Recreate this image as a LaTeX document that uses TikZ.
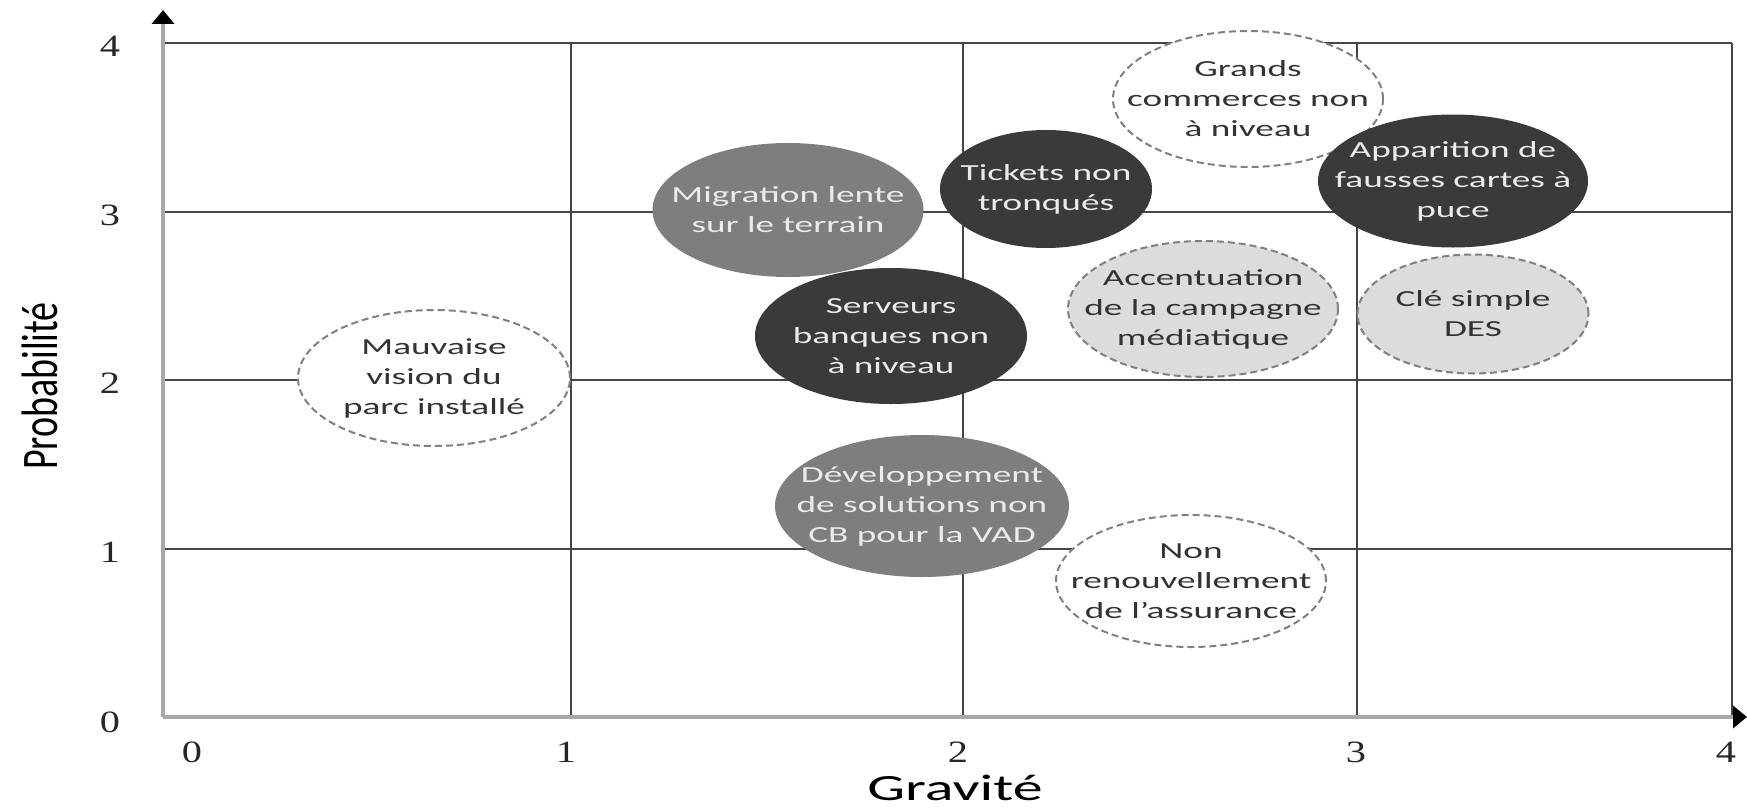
\documentclass[tikz,border=0pt]{standalone}
\usepackage{fontspec}
\setmainfont{Carlito}
\newfontfamily\widefont{Carlito}[FakeStretch=1.62]
\newfontfamily\tickfont{Liberation Serif}[FakeStretch=1.3]
\usetikzlibrary{arrows.meta,shapes.geometric}

\definecolor{darkrisk}{HTML}{3A3A3A}
\definecolor{midrisk}{HTML}{7E7E7E}
\definecolor{lightrisk}{HTML}{DCDCDC}
\definecolor{axisgray}{HTML}{A8A8A8}
\definecolor{gridgray}{HTML}{454545}

\tikzset{
  risk/.style={ellipse, inner sep=0pt},
  risktext/.style={align=center, inner sep=0pt,
    font=\widefont\fontsize{23}{30}\selectfont},
  darkbubble/.style={risk, fill=darkrisk,
    label={[risktext, text=white!92!black]center:#1}},
  midbubble/.style={risk, fill=midrisk,
    label={[risktext, text=white!92!black]center:#1}},
  lightbubble/.style={risk, fill=lightrisk, draw=black!50, dash pattern=on 7pt off 4pt,
    line width=2pt, label={[risktext, text=black!80]center:#1}},
  openbubble/.style={risk, fill=white, draw=black!50, dash pattern=on 7pt off 4pt,
    line width=2pt, label={[risktext, text=black!80]center:#1}},
  ticklabel/.style={font=\tickfont\fontsize{31}{31}\selectfont, text=black!85},
  axisline/.style={axisgray, line width=3.5pt,
    -{Triangle[color=black, length=14pt, width=22pt]}},
  gridline/.style={gridgray, line width=2pt}
}

\begin{document}
\begin{tikzpicture}[x=1pt, y=-1pt]
  \useasboundingbox (0,0) rectangle (1747,808);

  % grid
  \foreach \gx in {571,963,1357,1732}
    \draw[gridline] (\gx,43) -- (\gx,717);
  \foreach \gy in {43,212,380,549}
    \draw[gridline] (163,\gy) -- (1732,\gy);

  % axes
  \coordinate (origin) at (163,717);
  \coordinate (ytop) at (163,10);
  \coordinate (xend) at (1747,717);
  \draw[axisline] (origin) -- (ytop);
  \draw[axisline] (origin) -- (xend);

  % tick labels
  \foreach \ty/\tl in {46/4,215/3,383/2,552/1,722/0}
    \node[ticklabel] (ytick\tl) at (110,\ty) {\tl};
  \foreach \tx/\tl in {192/0,566/1,958/2,1356/3,1726/4}
    \node[ticklabel] (xtick\tl) at (\tx,752) {\tl};

  \node[font=\widefont\fontsize{37}{37}\selectfont] (gravite) at (955,788) {Gravité};
  \node[font=\fontsize{38}{38}\selectfont, rotate=90] (proba) at (40,386)
    {\scalebox{1}[1.35]{Probabilité}};

  % risks
  \node[openbubble={Grands\\commerces non\\à niveau},
    minimum width=270pt, minimum height=136pt] (grands) at (1248,99) {};
  \node[midbubble={Migration lente\\sur le terrain},
    minimum width=271pt, minimum height=134pt] (migration) at (788,210) {};
  \node[darkbubble={Tickets non\\tronqués},
    minimum width=212pt, minimum height=118pt] (tickets) at (1046,189) {};
  \node[darkbubble={Apparition de\\fausses cartes à\\puce},
    minimum width=270pt, minimum height=133pt] (apparition) at (1453,181) {};
  \node[lightbubble={Accentuation\\de la campagne\\médiatique},
    minimum width=270pt, minimum height=136pt] (accent) at (1203,309) {};
  \node[lightbubble={Clé simple\\DES},
    minimum width=231pt, minimum height=119pt] (cle) at (1473,314) {};
  \node[darkbubble={Serveurs\\banques non\\à niveau},
    minimum width=272pt, minimum height=136pt] (serveurs) at (891,336) {};
  \node[openbubble={Mauvaise\\vision du\\parc installé},
    minimum width=272pt, minimum height=136pt] (mauvaise) at (434,378) {};
  \node[midbubble={Développement\\de solutions non\\CB pour la VAD},
    minimum width=294pt, minimum height=142pt] (develop) at (922,506) {};
  \node[openbubble={Non\\renouvellement\\de l’assurance},
    minimum width=270pt, minimum height=132pt] (assurance) at (1191,581) {};
\end{tikzpicture}
\end{document}
